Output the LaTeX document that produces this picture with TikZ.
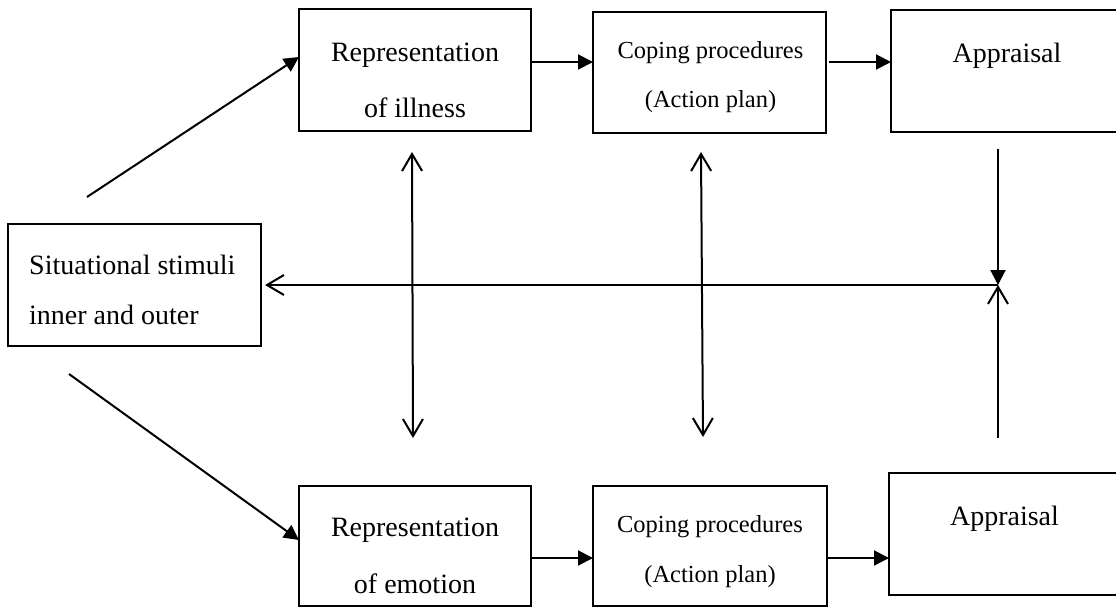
\documentclass[tikz,border=0pt]{standalone}
\usepackage{fontspec}
\setmainfont{Liberation Serif}
\usetikzlibrary{arrows.meta,calc}
\begin{document}
\begin{tikzpicture}[x=1pt,y=-1pt,
  box/.style={draw,line width=2pt,rectangle,inner sep=0pt,outer sep=0pt},
  lbl/.style={anchor=base,inner sep=0pt,font=\fontsize{28}{34}\selectfont},
  lbls/.style={anchor=base,inner sep=0pt,font=\fontsize{24.5}{30}\selectfont},
  conn/.style={line width=2pt},
  filledhead/.style={-{Triangle[length=15pt,width=15pt]}},
  openhead/.style={-{Straight Barb[length=17pt,width=20pt]}},
  twohead/.style={{Straight Barb[length=17pt,width=20pt]}-{Straight Barb[length=17pt,width=20pt]}},
]
\useasboundingbox (0,0) rectangle (1116,608);

% boxes
\node[box,minimum width=232pt,minimum height=122pt] (ill)  at (415,70) {};
\node[box,minimum width=233pt,minimum height=121pt] (cop1) at (709.5,72.5) {};
\node[box,minimum width=231pt,minimum height=122pt] (app1) at (1006.5,71) {};
\node[box,minimum width=253pt,minimum height=122pt] (sit)  at (134.5,285) {};
\node[box,minimum width=232pt,minimum height=120pt] (emo)  at (415,546) {};
\node[box,minimum width=234pt,minimum height=120pt] (cop2) at (710,546) {};
\node[box,minimum width=233pt,minimum height=122pt] (app2) at (1005.5,534) {};

% texts
\node[lbl] (t1) at (415,61) {Representation};
\node[lbl] (t2) at (415,117) {of illness};
\node[lbls] (t3) at (710.5,58) {Coping procedures};
\node[lbls] (t4) at (710.5,107) {(Action plan)};
\node[lbl] (t5) at (1007,62) {Appraisal};
\node[lbl,anchor=base west] (t6) at (29,274) {Situational stimuli};
\node[lbl,anchor=base west] (t7) at (29,324) {inner and outer};
\node[lbl] (t8) at (415,536) {Representation};
\node[lbl] (t9) at (415,593) {of emotion};
\node[lbls] (t10) at (710,532) {Coping procedures};
\node[lbls] (t11) at (710,582) {(Action plan)};
\node[lbl] (t12) at (1004.5,525) {Appraisal};

% junction on the right
\coordinate (j) at (998,285);

% horizontal connectors
\draw[conn,filledhead] ($(ill.east)+(0,-8)$) -- ($(cop1.west)+(0,-10.5)$);
\draw[conn,filledhead] ($(cop1.east)+(3,-10.5)$) -- ($(app1.west)+(0,-9)$);
\draw[conn,filledhead] ($(emo.east)+(0,12)$) -- ($(cop2.west)+(0,12)$);
\draw[conn,filledhead] ($(cop2.east)+(0,12)$) -- ($(app2.west)+(0,24)$);

% diagonals from situational stimuli
\draw[conn,filledhead] ($(sit.north)+(-47.5,-27)$) -- ($(ill.west)+(0,-13)$);
\draw[conn,filledhead] ($(sit.south)+(-65.5,28)$) -- ($(emo.west)+(0,-6)$);

% vertical double arrows
\draw[conn,twohead] ($(ill.south)+(-3,21)$) -- ($(emo.north)+(-2,-48)$);
\draw[conn,twohead] ($(cop1.south)+(-8.5,19)$) -- ($(cop2.north)+(-7,-49)$);

% feedback loop
\draw[conn,filledhead] (app1.south -| j) ++(0,17) -- (j);
\draw[conn,openhead] ($(app2.north -| j)+(0,-35)$) -- (j);
\draw[conn,openhead] (j) -- ($(sit.east)+(4,0)$);
\end{tikzpicture}
\end{document}
